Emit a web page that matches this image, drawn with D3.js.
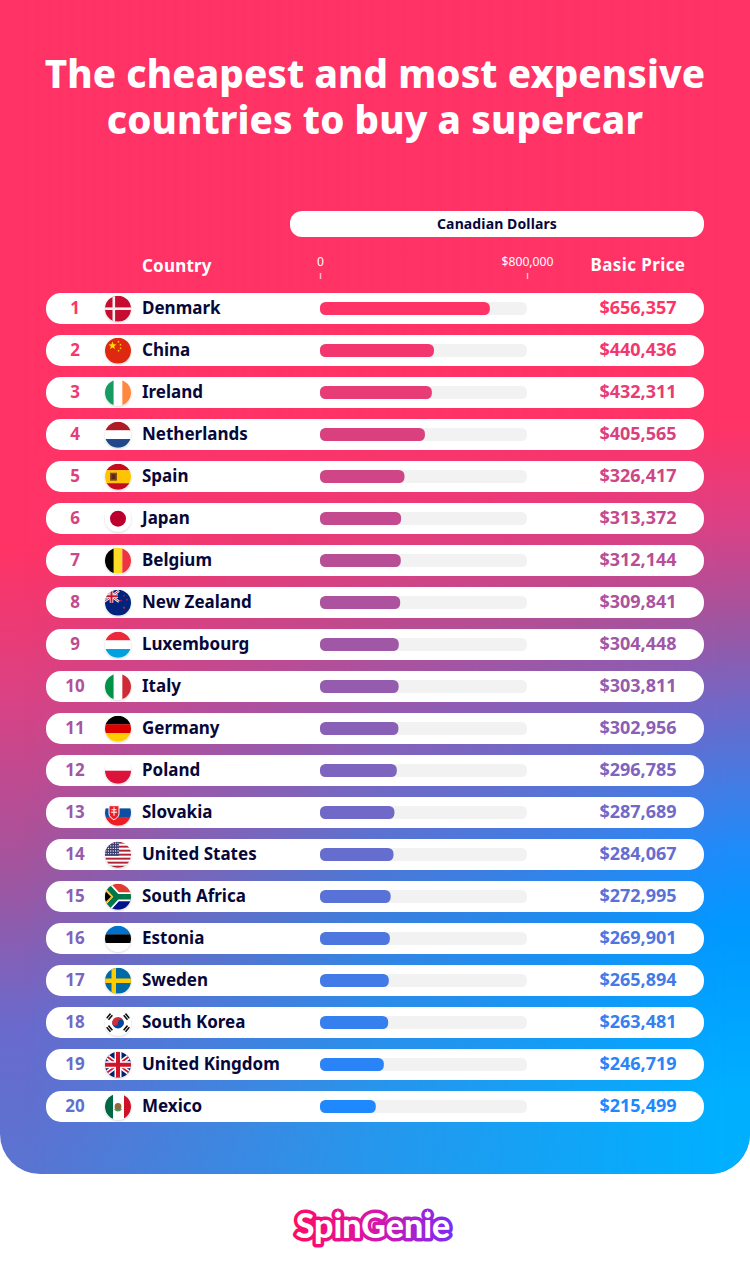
<!DOCTYPE html>
<html>
<head>
<meta charset="utf-8">
<script src="https://cdn.jsdelivr.net/npm/d3@7"></script>
<style>
    html, body { margin: 0; padding: 0; background: #fff; }
    svg { display: block; }
    text { font-family: "Noto Sans", sans-serif; }
</style>
</head>
<body>
<svg id="chart" width="750" height="1272"></svg>
<script>
const countries = ["Denmark", "China", "Ireland", "Netherlands", "Spain", "Japan", "Belgium", "New Zealand", "Luxembourg", "Italy",
    "Germany", "Poland", "Slovakia", "United States", "South Africa", "Estonia", "Sweden", "South Korea", "United Kingdom", "Mexico"]
const prices = [656357, 440436, 432311, 405565, 326417, 313372, 312144, 309841, 304448, 303811,
    302956, 296785, 287689, 284067, 272995, 269901, 265894, 263481, 246719, 215499]
const axisTicks = [0, 800000]
const axisMax = 800000
const titleLines = ["The cheapest and most expensive", "countries to buy a supercar"]

const leftStops = [[400, "#ff3366"], [550, "#ff3366"], [700, "#d94284"], [875, "#a0559f"], [1025, "#6a6acc"], [1174, "#5a74d2"]]
const rightStops = [[400, "#ff3366"], [425, "#ff3366"], [520, "#dd4085"], [620, "#a0559f"], [715, "#6a6acc"], [850, "#1e8cfb"], [925, "#0098ff"], [1100, "#00b0ff"], [1174, "#00b0ff"]]

const svg = d3.select("#chart")
const defs = svg.append("defs")

function addVGradient(id, stops) {
    const g = defs.append("linearGradient").attr("id", id)
        .attr("gradientUnits", "userSpaceOnUse")
        .attr("x1", 0).attr("x2", 0).attr("y1", 0).attr("y2", 1174)
    stops.forEach(s => g.append("stop").attr("offset", s[0] / 1174).attr("stop-color", s[1]))
}

addVGradient("bgLeft", leftStops)
addVGradient("bgRight", rightStops)

const fade = defs.append("linearGradient").attr("id", "fade")
    .attr("gradientUnits", "userSpaceOnUse")
    .attr("x1", 0).attr("x2", 750).attr("y1", 0).attr("y2", 0)
fade.append("stop").attr("offset", 0.03).attr("stop-color", "#000")
fade.append("stop").attr("offset", 0.5).attr("stop-color", "#999")
fade.append("stop").attr("offset", 0.97).attr("stop-color", "#fff")
defs.append("mask").attr("id", "fadeMask").attr("maskUnits", "userSpaceOnUse")
    .attr("x", 0).attr("y", 0).attr("width", 750).attr("height", 1174)
    .append("rect").attr("width", 750).attr("height", 1174).attr("fill", "url(#fade)")

defs.append("clipPath").attr("id", "cardClip").append("path")
    .attr("d", "M0,0H750V1134A40,40 0 0 1 710,1174H40A40,40 0 0 1 0,1134Z")

defs.append("clipPath").attr("id", "flagClip").append("circle").attr("r", 13)

const shadow = defs.append("filter").attr("id", "flagShadow")
    .attr("x", "-30%").attr("y", "-30%").attr("width", "160%").attr("height", "160%")
shadow.append("feDropShadow").attr("dx", 0).attr("dy", 1).attr("stdDeviation", 1.2)
    .attr("flood-color", "#000").attr("flood-opacity", 0.18)

const logoGrad = defs.append("linearGradient").attr("id", "logoGrad")
    .attr("gradientUnits", "userSpaceOnUse")
    .attr("x1", 294).attr("x2", 452).attr("y1", 0).attr("y2", 0)
logoGrad.append("stop").attr("offset", 0).attr("stop-color", "#ff0a64")
logoGrad.append("stop").attr("offset", 0.5).attr("stop-color", "#d915a8")
logoGrad.append("stop").attr("offset", 1).attr("stop-color", "#7a2cf5")

// background card
const card = svg.append("g").attr("clip-path", "url(#cardClip)")
card.append("rect").attr("width", 750).attr("height", 1174).attr("fill", "url(#bgLeft)")
card.append("rect").attr("width", 750).attr("height", 1174).attr("fill", "url(#bgRight)").attr("mask", "url(#fadeMask)")

// title
svg.selectAll(".title").data(titleLines).enter().append("text")
    .attr("class", "title")
    .attr("x", 375)
    .attr("y", (d, i) => 88 + i * 46)
    .attr("text-anchor", "middle")
    .attr("fill", "#fff")
    .attr("font-size", 38.5)
    .attr("font-weight", 800)
    .attr("letter-spacing", 0.1)
    .text(d => d)

// header
svg.append("rect").attr("x", 290).attr("y", 211).attr("width", 414).attr("height", 26).attr("rx", 12).attr("fill", "#fff")
svg.append("text").attr("x", 497).attr("y", 229).attr("text-anchor", "middle")
    .attr("fill", "#07083a").attr("font-size", 14).attr("font-weight", 700).attr("letter-spacing", 0.12).text("Canadian Dollars")
svg.append("text").attr("x", 142).attr("y", 272)
    .attr("fill", "#fff").attr("font-size", 17).attr("font-weight", 700).attr("letter-spacing", 0.2).text("Country")
svg.append("text").attr("x", 638).attr("y", 271).attr("text-anchor", "middle")
    .attr("fill", "#fff").attr("font-size", 17).attr("font-weight", 700).attr("letter-spacing", 0.4).text("Basic Price")

const x = d3.scaleLinear().domain([0, axisMax]).range([320, 527])
const rowY = d3.scaleLinear().domain([0, 1]).range([293, 335])
const valueColor = d3.scaleLinear().domain([0, countries.length - 1]).range(["#ff3366", "#1e88ff"])
const rankColor = d3.scaleLinear().domain([0, countries.length - 1]).range(["#ff3366", "#6070d0"])

const axis = d3.axisTop(x).tickValues(axisTicks).tickSize(6).tickPadding(7)
    .tickFormat(d => d === 0 ? "0" : d3.format("$,")(d))
const axisG = svg.append("g").attr("transform", "translate(0,279)").call(axis)
axisG.select(".domain").remove()
axisG.selectAll("line").attr("stroke", "#fff").attr("stroke-opacity", 0.65).attr("stroke-width", 1.5)
axisG.selectAll("text").attr("fill", "#fff").attr("font-size", 12.2).style("font-family", "\"Noto Sans\", sans-serif")

// flags, unit is one pixel around the centre of the 26px circle
function hStripes(g, colors, weights) {
    const w = weights || colors.map(() => 1)
    const sum = d3.sum(w)
    let y = -13
    colors.forEach((c, i) => {
        const h = 26 * w[i] / sum
        g.append("rect").attr("x", -13).attr("y", y).attr("width", 26).attr("height", h + 0.2).attr("fill", c)
        y += h
    })
}

function vStripes(g, colors) {
    colors.forEach((c, i) => {
        g.append("rect").attr("x", -13 + i * 26 / colors.length).attr("y", -13)
            .attr("width", 26 / colors.length + 0.2).attr("height", 26).attr("fill", c)
    })
}

function box(g, px, py, w, h, c) {
    return g.append("rect").attr("x", px).attr("y", py).attr("width", w).attr("height", h).attr("fill", c)
}

function star(g, cx, cy, r, c) {
    const pts = d3.range(10).map(i => {
        const a = -Math.PI / 2 + i * Math.PI / 5
        const q = i % 2 ? r * 0.42 : r
        return [cx + q * Math.cos(a), cy + q * Math.sin(a)].join(",")
    })
    g.append("polygon").attr("points", pts.join(" ")).attr("fill", c)
}

function path(g, d, fill, stroke, sw) {
    return g.append("path").attr("d", d).attr("fill", fill || "none")
        .attr("stroke", stroke || "none").attr("stroke-width", sw || 0)
}

function unionJack(g) {
    path(g, "M-15,-11L15,11M-15,11L15,-11", null, "#fff", 5)
    path(g, "M-15,-11L15,11M-15,11L15,-11", null, "#cf142b", 1.8)
    path(g, "M0,-13V13M-13,0H13", null, "#fff", 7)
    path(g, "M0,-13V13M-13,0H13", null, "#cf142b", 4)
}

const flags = {
    "Denmark": g => {
        box(g, -13, -13, 26, 26, "#c60c30")
        box(g, -5.5, -13, 2.6, 26, "#f4f0f0")
        box(g, -13, -1.3, 26, 2.6, "#f4f0f0")
    },
    "China": g => {
        box(g, -13, -13, 26, 26, "#de2910")
        star(g, -5.5, -5, 4.2, "#ffde00")
        star(g, 0.5, -9, 1.3, "#ffde00")
        star(g, 2.5, -6, 1.3, "#ffde00")
        star(g, 2.5, -2.5, 1.3, "#ffde00")
        star(g, 0.5, 0, 1.3, "#ffde00")
    },
    "Ireland": g => vStripes(g, ["#169b62", "#fff", "#ff883e"]),
    "Netherlands": g => hStripes(g, ["#ae1c28", "#fff", "#21468b"]),
    "Spain": g => {
        hStripes(g, ["#c60b1e", "#ffc400", "#c60b1e"], [1, 2, 1])
        box(g, -8, -4, 7, 8, "#8a4b20")
        box(g, -6.5, -2.5, 4, 5, "#5a2a18")
    },
    "Japan": g => {
        box(g, -13, -13, 26, 26, "#fff")
        g.append("circle").attr("r", 8).attr("fill", "#bc002d")
    },
    "Belgium": g => vStripes(g, ["#000", "#fdda24", "#ef3340"]),
    "New Zealand": g => {
        box(g, -13, -13, 26, 26, "#00247d")
        const j = g.append("g").attr("transform", "translate(-6.5,-6.5) scale(0.5)")
        unionJack(j)
        star(g, 6, -7, 1.5, "#cc142b")
        star(g, 3, -2, 1.5, "#cc142b")
        star(g, 9, -3, 1.5, "#cc142b")
        star(g, 6, 5, 1.8, "#cc142b")
    },
    "Luxembourg": g => hStripes(g, ["#ed2939", "#fff", "#00a1de"]),
    "Italy": g => vStripes(g, ["#009246", "#fff", "#ce2b37"]),
    "Germany": g => hStripes(g, ["#000", "#dd0000", "#ffce00"]),
    "Poland": g => hStripes(g, ["#fff", "#dc143c"]),
    "Slovakia": g => {
        hStripes(g, ["#fff", "#0b4ea2", "#ee1c25"])
        path(g, "M-9,-7H1V1C1,4 -2,6 -4,7C-6,6 -9,4 -9,1Z", "#ee1c25", "#fff", 1)
        path(g, "M-4,-5.5V3M-6.5,-3H-1.5M-7,-0.5H-1", null, "#fff", 1)
    },
    "United States": g => {
        hStripes(g, d3.range(13).map(i => i % 2 ? "#fff" : "#b22234"))
        box(g, -13, -13, 14, 14, "#3c3b6e")
        d3.range(5).forEach(r => d3.range(6).forEach(c => {
            g.append("circle").attr("cx", -12 + c * 2.4).attr("cy", -11.5 + r * 2.6).attr("r", 0.65).attr("fill", "#fff")
        }))
    },
    "South Africa": g => {
        hStripes(g, ["#e03c31", "#001489"])
        path(g, "M-13,-13L-1,0L-13,13M-1,0H13", null, "#fff", 9)
        path(g, "M-13,-13L-1,0L-13,13M-1,0H13", null, "#007749", 5.5)
        path(g, "M-14,-8L-6,0L-14,8Z", "#000", "#ffb81c", 1.6)
    },
    "Estonia": g => hStripes(g, ["#0072ce", "#000", "#fff"]),
    "Sweden": g => {
        box(g, -13, -13, 26, 26, "#006aa7")
        box(g, -6.5, -13, 4.5, 26, "#fecc00")
        box(g, -13, -2.2, 26, 4.5, "#fecc00")
    },
    "South Korea": g => {
        box(g, -13, -13, 26, 26, "#fff")
        path(g, "M-5.8,0A5.8,5.8 0 0 1 5.8,0Z", "#cd2e3a")
        path(g, "M-5.8,0A5.8,5.8 0 0 0 5.8,0Z", "#0047a0")
        g.append("circle").attr("cx", -2.9).attr("r", 2.9).attr("fill", "#cd2e3a")
        g.append("circle").attr("cx", 2.9).attr("r", 2.9).attr("fill", "#0047a0")
        const bars = "M-3,-1.2H3M-3,1.2H3"
        ;[[-8.5, -6, -50], [8.5, -6, 50], [-8.5, 6, 50], [8.5, 6, -50]].forEach(t => {
            path(g, bars, null, "#111", 1.6).attr("transform", "translate(" + t[0] + "," + t[1] + ") rotate(" + t[2] + ")")
        })
    },
    "United Kingdom": g => {
        box(g, -13, -13, 26, 26, "#012169")
        unionJack(g)
    },
    "Mexico": g => {
        box(g, -13, -13, 26, 26, "#fff")
        box(g, -13, -13, 8, 26, "#006847")
        box(g, 6, -13, 7, 26, "#ce1126")
        g.append("ellipse").attr("rx", 3.4).attr("ry", 3.6).attr("fill", "#8c6a3a")
        path(g, "M-3.5,2.5Q0,6 3.5,2.5", null, "#3f8a4a", 1.2)
    }
}

// rows
const rows = svg.selectAll(".row").data(countries).enter().append("g")
    .attr("class", "row")
    .attr("transform", (d, i) => "translate(0," + rowY(i) + ")")

rows.append("rect").attr("x", 46).attr("width", 658).attr("height", 31).attr("rx", 15).attr("fill", "#fff")

rows.append("text").attr("x", 75).attr("y", 21).attr("text-anchor", "middle")
    .attr("font-size", 17).attr("font-weight", 700)
    .attr("fill", (d, i) => rankColor(i))
    .text((d, i) => i + 1)

rows.each(function (d) {
    const g = d3.select(this).append("g").attr("transform", "translate(118,15.7)")
    g.append("circle").attr("r", 13).attr("fill", "#fff").attr("filter", "url(#flagShadow)")
    flags[d](g.append("g").attr("clip-path", "url(#flagClip)"))
})

rows.append("text").attr("x", 142).attr("y", 21)
    .attr("font-size", 17).attr("font-weight", 700).attr("fill", "#07083a")
    .text(d => d)

rows.append("rect").attr("x", x(0)).attr("y", 9).attr("width", x(axisMax) - x(0)).attr("height", 13).attr("rx", 5.5).attr("fill", "#f2f2f2")

rows.append("rect").attr("x", x(0)).attr("y", 9)
    .attr("width", (d, i) => x(prices[i]) - x(0))
    .attr("height", 13).attr("rx", 5.5)
    .attr("fill", (d, i) => valueColor(i))

rows.append("text").attr("x", 638).attr("y", 21).attr("text-anchor", "middle")
    .attr("font-size", 18).attr("font-weight", 700)
    .attr("fill", (d, i) => valueColor(i))
    .text((d, i) => d3.format("$,")(prices[i]))

// logo
const logo = svg.append("text").attr("x", 373).attr("y", 1238).attr("text-anchor", "middle")
    .attr("font-size", 34).attr("font-weight", 900)
    .style("font-family", "Lato, sans-serif")
    .attr("fill", "#fff").attr("stroke", "url(#logoGrad)").attr("stroke-width", 7)
    .attr("stroke-linejoin", "round").attr("paint-order", "stroke")
    .text("SpinGenie")

// little stars over the two i's of the logo
;[2, 7].forEach(i => {
    const a = logo.node().getStartPositionOfChar(i)
    const b = logo.node().getEndPositionOfChar(i)
    star(svg, (a.x + b.x) / 2, 1213, 3, "#fff")
})
</script>
</body>
</html>
